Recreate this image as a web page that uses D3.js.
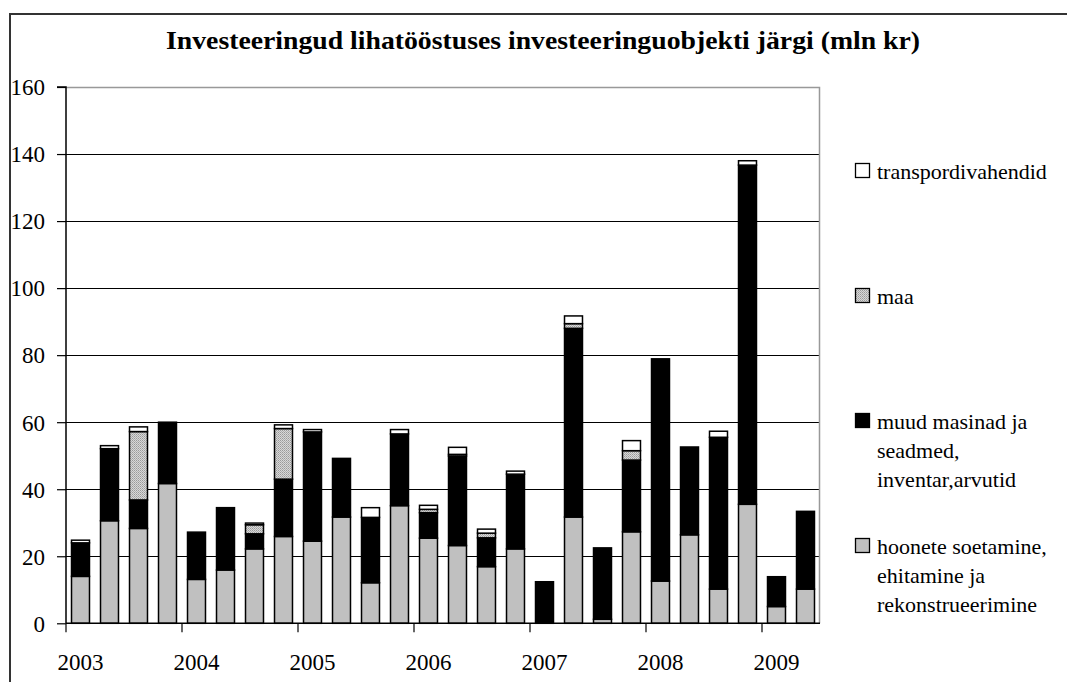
<!DOCTYPE html>
<html>
<head>
<meta charset="utf-8">
<script src="https://cdn.jsdelivr.net/npm/d3@7"></script>
<style>
  html, body { margin: 0; padding: 0; background: #fff; }
  svg { display: block; }
  text { font-family: "Liberation Serif", "Times New Roman", serif; fill: #000; }
</style>
</head>
<body>
<svg id="chart" width="1067" height="682"></svg>
<script>
// ---- data ----
const years = ["2003", "2004", "2005", "2006", "2007", "2008", "2009"];
const quarters = ["I", "II", "III", "IV"];
const categories = [
  "2003 I","2003 II","2003 III","2003 IV",
  "2004 I","2004 II","2004 III","2004 IV",
  "2005 I","2005 II","2005 III","2005 IV",
  "2006 I","2006 II","2006 III","2006 IV",
  "2007 I","2007 II","2007 III","2007 IV",
  "2008 I","2008 II","2008 III","2008 IV",
  "2009 I","2009 II"
];
const hoonete   = [14.0, 30.6, 28.3, 41.7, 13.1, 15.9, 22.2, 25.9, 24.5, 31.7, 12.1, 35.1, 25.4, 23.2, 16.9, 22.2, 0.0, 31.7, 1.2, 27.3, 12.6, 26.4, 10.2, 35.5, 5.0, 10.2];
const muud      = [10.0, 21.5, 8.5, 18.3, 14.1, 18.6, 4.5, 17.1, 32.6, 17.5, 19.5, 21.4, 7.6, 26.7, 8.6, 22.3, 12.4, 56.3, 21.3, 21.4, 66.3, 26.2, 45.3, 101.2, 8.9, 23.2];
const maa       = [0, 0, 20.4, 0, 0, 0, 2.7, 15.1, 0, 0, 0, 0, 1.0, 0.5, 1.4, 0, 0, 1.4, 0, 2.8, 0, 0, 0, 0, 0, 0];
const transport = [0.8, 0.9, 1.4, 0, 0, 0, 0.5, 1.1, 0.7, 0, 2.9, 1.3, 1.2, 2.1, 1.2, 0.9, 0, 2.3, 0, 3.0, 0, 0, 1.8, 1.3, 0, 0];
const yTicks = [0, 20, 40, 60, 80, 100, 120, 140, 160];
const seriesNames = ["hoonete", "muud", "maa", "transport"];
const title = "Investeeringud lihatööstuses investeeringuobjekti järgi (mln kr)";
const legendItems = [
  { key: "transport", lines: ["transpordivahendid"] },
  { key: "maa", lines: ["maa"] },
  { key: "muud", lines: ["muud masinad ja", "seadmed,", "inventar,arvutid"] },
  { key: "hoonete", lines: ["hoonete soetamine,", "ehitamine ja", "rekonstrueerimine"] }
];

// ---- build table ----
const table = categories.map((c, i) => ({
  cat: c, hoonete: hoonete[i], muud: muud[i], maa: maa[i], transport: transport[i]
}));

const svg = d3.select("#chart");
const defs = svg.append("defs");
const pat = defs.append("pattern").attr("id", "hatch")
  .attr("patternUnits", "userSpaceOnUse").attr("width", 2).attr("height", 2);
pat.append("rect").attr("width", 2).attr("height", 2).attr("fill", "#d8d8d8");
pat.append("rect").attr("x", 0).attr("y", 0).attr("width", 1).attr("height", 1).attr("fill", "#9a9a9a");
pat.append("rect").attr("x", 1).attr("y", 1).attr("width", 1).attr("height", 1).attr("fill", "#b0b0b0");

const fills = { hoonete: "#c0c0c0", muud: "#000000", maa: "url(#hatch)", transport: "#ffffff" };

// outer border
svg.append("rect").attr("x", 10).attr("y", 14).attr("width", 1080).attr("height", 700)
  .attr("fill", "none").attr("stroke", "#333").attr("stroke-width", 2);

// title
svg.append("text").attr("x", 543).attr("y", 49).attr("text-anchor", "middle")
  .attr("font-weight", "bold").attr("font-size", 26)
  .attr("textLength", 754).attr("lengthAdjust", "spacingAndGlyphs")
  .text(title);

const plot = { left: 66, right: 820, top: 87, bottom: 623.3 };

const x = d3.scaleBand().domain(categories).range([plot.left, plot.right])
  .paddingInner(0.38).paddingOuter(0.19);
const y = d3.scaleLinear().domain([0, 160]).range([plot.bottom, plot.top]);

// gridlines
svg.append("g").selectAll("line").data(yTicks.filter(t => t > 0 && t < 160)).join("line")
  .attr("x1", plot.left).attr("x2", plot.right - 1)
  .attr("y1", d => Math.round(y(d)) + 0.5).attr("y2", d => Math.round(y(d)) + 0.5)
  .attr("stroke", "#000").attr("stroke-width", 1);

// plot area border top/right (grey)
svg.append("path")
  .attr("d", `M${plot.left},${Math.round(y(160)) + 0.5} H${plot.right - 0.5} V${plot.bottom}`)
  .attr("fill", "none").attr("stroke", "#999").attr("stroke-width", 1.5);

// stacked bars
const stack = d3.stack().keys(seriesNames);
const stacked = stack(table);
const barG = svg.append("g");
stacked.forEach(layer => {
  barG.append("g").selectAll("rect")
    .data(layer.filter(d => d[1] - d[0] > 0)).join("rect")
    .attr("x", d => x(d.data.cat))
    .attr("width", x.bandwidth())
    .attr("y", d => y(d[1]))
    .attr("height", d => y(d[0]) - y(d[1]))
    .attr("fill", fills[layer.key])
    .attr("stroke", "#000").attr("stroke-width", 1.5);
});

// y axis
const yAxis = d3.axisLeft(y).tickValues(yTicks).tickSize(9).tickPadding(12)
  .tickFormat(d3.format("d"));
const ya = svg.append("g").attr("transform", `translate(${plot.left},0)`).call(yAxis);
ya.select(".domain").attr("stroke", "#000").attr("stroke-width", 1.5).attr("d", `M-9,${plot.top}H0V${plot.bottom}`);
ya.selectAll(".tick line").attr("stroke", "#000").attr("stroke-width", 1.2);
ya.selectAll(".tick text").attr("font-size", 23)
  .attr("fill", "#000")
  .attr("dy", "0.34em").attr("x", -21);

// x axis: ticks at year boundaries, labels under Q1 bars
const xAxisG = svg.append("g");
xAxisG.append("line").attr("x1", plot.left).attr("x2", plot.right)
  .attr("y1", plot.bottom).attr("y2", plot.bottom)
  .attr("stroke", "#000").attr("stroke-width", 1.5);
const q1cats = categories.filter((c, i) => i % 4 === 0);
xAxisG.selectAll("line.tk").data(q1cats).join("line").attr("class", "tk")
  .attr("x1", d => x(d) - x.step() * x.paddingInner() / 2)
  .attr("x2", d => x(d) - x.step() * x.paddingInner() / 2)
  .attr("y1", plot.bottom).attr("y2", plot.bottom + 9)
  .attr("stroke", "#000").attr("stroke-width", 1.2);
xAxisG.selectAll("text").data(q1cats).join("text")
  .attr("x", d => x(d) + x.bandwidth() / 2)
  .attr("y", 670).attr("text-anchor", "middle").attr("font-size", 23)
  .text((d, i) => years[i]);

// legend
const legendPos = [172, 297, 422, 547];
const lg = svg.append("g");
legendItems.forEach((it, i) => {
  const cy = legendPos[i];
  lg.append("rect").attr("x", 855.5).attr("y", cy - 8.5).attr("width", 14).attr("height", 14)
    .attr("fill", fills[it.key]).attr("stroke", "#000").attr("stroke-width", 1.3);
  it.lines.forEach((ln, j) => {
    lg.append("text").attr("x", 877).attr("y", cy + 7 + j * 29)
      .attr("font-size", 22).text(ln);
  });
});
</script>
</body>
</html>
